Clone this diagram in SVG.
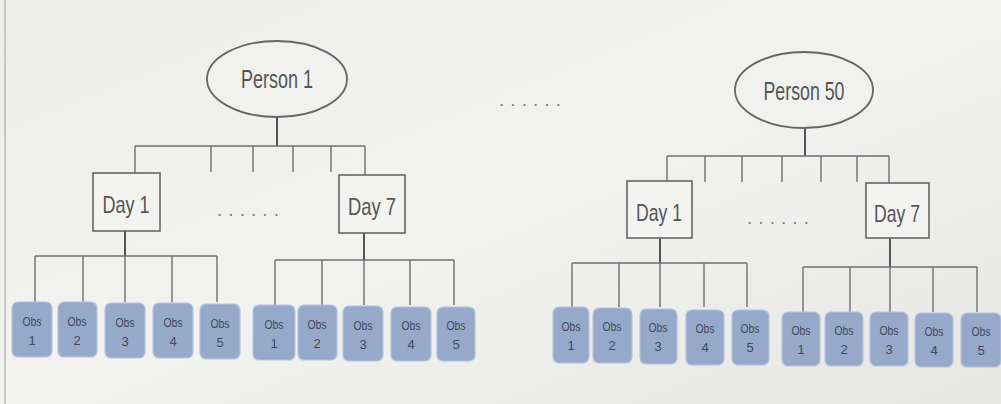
<svg xmlns="http://www.w3.org/2000/svg" width="1001" height="404" viewBox="0 0 1001 404">
<defs>
<linearGradient id="bg" x1="0" y1="0" x2="1" y2="1">
<stop offset="0" stop-color="#eeeeec"/>
<stop offset="0.5" stop-color="#f2f2f0"/>
<stop offset="1" stop-color="#e6e6e4"/>
</linearGradient>
</defs>
<style>
.ln{stroke:#707070;stroke-width:1.4;fill:none}
.stem{stroke:#555;stroke-width:2;fill:none}
.per{fill:#f1f1ef;stroke:#666;stroke-width:1.8}
.day{fill:#f3f3f1;stroke:#666;stroke-width:1.6}
.obs{fill:#97a9cb;stroke:#b6c3dc;stroke-width:1.2}
.t1{font-family:"Liberation Sans",sans-serif;fill:#555;text-anchor:middle}
.big{font-size:25px}
.mid{font-size:24px}
.sm{font-size:13px;fill:#3f4a5c}
.dots{font-family:"Liberation Sans",sans-serif;font-size:12px;font-weight:bold;fill:#777}
</style>
<rect x="0" y="0" width="1001" height="404" fill="url(#bg)"/>
<line x1="5" y1="0" x2="5" y2="404" stroke="#c8c8c6" stroke-width="2"/>

<g id="connectors">
<path class="stem" d="M277 117V146"/>
<path class="ln" d="M135 146H365M135 146V173M211 146V172M253 146V172M293 146V172M331 146V172M365 146V175"/>
<path class="stem" d="M125 231V256"/>
<path class="ln" d="M35 256H217M35 256V302M83 256V302M125 256V302M172 256V302M217 256V302"/>
<path class="stem" d="M364 233V260"/>
<path class="ln" d="M275 260H454M275 260V305M322 260V305M364 260V305M410 260V305M454 260V305"/>
<path class="stem" d="M805 127V156"/>
<path class="ln" d="M667 156H889M667 156V181M705 156V182M742 156V182M782 156V182M821 156V182M857 156V182M889 156V183"/>
<path class="stem" d="M660 238V263"/>
<path class="ln" d="M572 263H747M572 263V307M619 263V307M660 263V307M704 263V307M747 263V307"/>
<path class="stem" d="M890 238V267"/>
<path class="ln" d="M803 267H977M803 267V312M850 267V312M890 267V312M933 267V312M977 267V312"/>
</g>

<g id="person1"><ellipse class="per" cx="277" cy="79" rx="70" ry="38"/><text class="t1 big" x="277" y="88" textLength="72" lengthAdjust="spacingAndGlyphs">Person 1</text></g>
<g id="p1day1"><rect class="day" x="93" y="173" width="67" height="58"/><text class="t1 mid" x="126" y="213" textLength="47" lengthAdjust="spacingAndGlyphs">Day 1</text></g>
<g id="p1day7"><rect class="day" x="339" y="175" width="66" height="58"/><text class="t1 mid" x="372" y="215" textLength="48" lengthAdjust="spacingAndGlyphs">Day 7</text></g>
<g id="p1dots"><text class="dots" x="218" y="216" textLength="60" lengthAdjust="spacing">......</text></g>

<g id="p1d1obs">
<g id="p1d1o1"><rect class="obs" x="12" y="302" width="40" height="55" rx="6"/><text class="t1 sm" x="32" y="326" textLength="19" lengthAdjust="spacingAndGlyphs">Obs</text><text class="t1 sm" x="32" y="345">1</text></g>
<g id="p1d1o2"><rect class="obs" x="58" y="302" width="39" height="55" rx="6"/><text class="t1 sm" x="77" y="326" textLength="19" lengthAdjust="spacingAndGlyphs">Obs</text><text class="t1 sm" x="77" y="345">2</text></g>
<g id="p1d1o3"><rect class="obs" x="105" y="303" width="40" height="55" rx="6"/><text class="t1 sm" x="125" y="327" textLength="19" lengthAdjust="spacingAndGlyphs">Obs</text><text class="t1 sm" x="125" y="346">3</text></g>
<g id="p1d1o4"><rect class="obs" x="153" y="303" width="40" height="55" rx="6"/><text class="t1 sm" x="173" y="327" textLength="19" lengthAdjust="spacingAndGlyphs">Obs</text><text class="t1 sm" x="173" y="346">4</text></g>
<g id="p1d1o5"><rect class="obs" x="200" y="304" width="40" height="55" rx="6"/><text class="t1 sm" x="220" y="328" textLength="19" lengthAdjust="spacingAndGlyphs">Obs</text><text class="t1 sm" x="220" y="347">5</text></g>
</g>
<g id="p1d7obs">
<g id="p1d7o1"><rect class="obs" x="253" y="305" width="42" height="55" rx="6"/><text class="t1 sm" x="274" y="329" textLength="19" lengthAdjust="spacingAndGlyphs">Obs</text><text class="t1 sm" x="274" y="348">1</text></g>
<g id="p1d7o2"><rect class="obs" x="298" y="305" width="39" height="55" rx="6"/><text class="t1 sm" x="317" y="329" textLength="19" lengthAdjust="spacingAndGlyphs">Obs</text><text class="t1 sm" x="317" y="348">2</text></g>
<g id="p1d7o3"><rect class="obs" x="343" y="306" width="40" height="55" rx="6"/><text class="t1 sm" x="363" y="330" textLength="19" lengthAdjust="spacingAndGlyphs">Obs</text><text class="t1 sm" x="363" y="349">3</text></g>
<g id="p1d7o4"><rect class="obs" x="391" y="307" width="40" height="54" rx="6"/><text class="t1 sm" x="411" y="330" textLength="19" lengthAdjust="spacingAndGlyphs">Obs</text><text class="t1 sm" x="411" y="349">4</text></g>
<g id="p1d7o5"><rect class="obs" x="437" y="307" width="38" height="54" rx="6"/><text class="t1 sm" x="456" y="330" textLength="19" lengthAdjust="spacingAndGlyphs">Obs</text><text class="t1 sm" x="456" y="349">5</text></g>
</g>

<g id="middots"><text class="dots" x="500" y="106" fill="#7a5555" textLength="60" lengthAdjust="spacing">......</text></g>

<g id="person50"><ellipse class="per" cx="804" cy="90" rx="69" ry="38"/><text class="t1 big" x="804" y="100" textLength="81" lengthAdjust="spacingAndGlyphs">Person 50</text></g>
<g id="p50day1"><rect class="day" x="627" y="181" width="65" height="57"/><text class="t1 mid" x="659" y="221" textLength="46" lengthAdjust="spacingAndGlyphs">Day 1</text></g>
<g id="p50day7"><rect class="day" x="866" y="183" width="63" height="55"/><text class="t1 mid" x="897" y="222" textLength="46" lengthAdjust="spacingAndGlyphs">Day 7</text></g>
<g id="p50dots"><text class="dots" x="748" y="224" textLength="60" lengthAdjust="spacing">......</text></g>

<g id="p50d1obs">
<g id="p50d1o1"><rect class="obs" x="553" y="307" width="36" height="56" rx="6"/><text class="t1 sm" x="571" y="331" textLength="19" lengthAdjust="spacingAndGlyphs">Obs</text><text class="t1 sm" x="571" y="350">1</text></g>
<g id="p50d1o2"><rect class="obs" x="593" y="308" width="39" height="55" rx="6"/><text class="t1 sm" x="612" y="331" textLength="19" lengthAdjust="spacingAndGlyphs">Obs</text><text class="t1 sm" x="612" y="350">2</text></g>
<g id="p50d1o3"><rect class="obs" x="640" y="309" width="37" height="55" rx="6"/><text class="t1 sm" x="658" y="332" textLength="19" lengthAdjust="spacingAndGlyphs">Obs</text><text class="t1 sm" x="658" y="351">3</text></g>
<g id="p50d1o4"><rect class="obs" x="686" y="310" width="38" height="55" rx="6"/><text class="t1 sm" x="705" y="333" textLength="19" lengthAdjust="spacingAndGlyphs">Obs</text><text class="t1 sm" x="705" y="352">4</text></g>
<g id="p50d1o5"><rect class="obs" x="732" y="310" width="37" height="55" rx="6"/><text class="t1 sm" x="750" y="333" textLength="19" lengthAdjust="spacingAndGlyphs">Obs</text><text class="t1 sm" x="750" y="352">5</text></g>
</g>
<g id="p50d7obs">
<g id="p50d7o1"><rect class="obs" x="782" y="312" width="38" height="54" rx="6"/><text class="t1 sm" x="801" y="335" textLength="19" lengthAdjust="spacingAndGlyphs">Obs</text><text class="t1 sm" x="801" y="354">1</text></g>
<g id="p50d7o2"><rect class="obs" x="825" y="312" width="38" height="54" rx="6"/><text class="t1 sm" x="844" y="335" textLength="19" lengthAdjust="spacingAndGlyphs">Obs</text><text class="t1 sm" x="844" y="354">2</text></g>
<g id="p50d7o3"><rect class="obs" x="870" y="312" width="38" height="54" rx="6"/><text class="t1 sm" x="889" y="335" textLength="19" lengthAdjust="spacingAndGlyphs">Obs</text><text class="t1 sm" x="889" y="354">3</text></g>
<g id="p50d7o4"><rect class="obs" x="915" y="313" width="38" height="54" rx="6"/><text class="t1 sm" x="934" y="336" textLength="19" lengthAdjust="spacingAndGlyphs">Obs</text><text class="t1 sm" x="934" y="355">4</text></g>
<g id="p50d7o5"><rect class="obs" x="961" y="313" width="40" height="54" rx="6"/><text class="t1 sm" x="981" y="336" textLength="19" lengthAdjust="spacingAndGlyphs">Obs</text><text class="t1 sm" x="981" y="355">5</text></g>
</g>
</svg>
